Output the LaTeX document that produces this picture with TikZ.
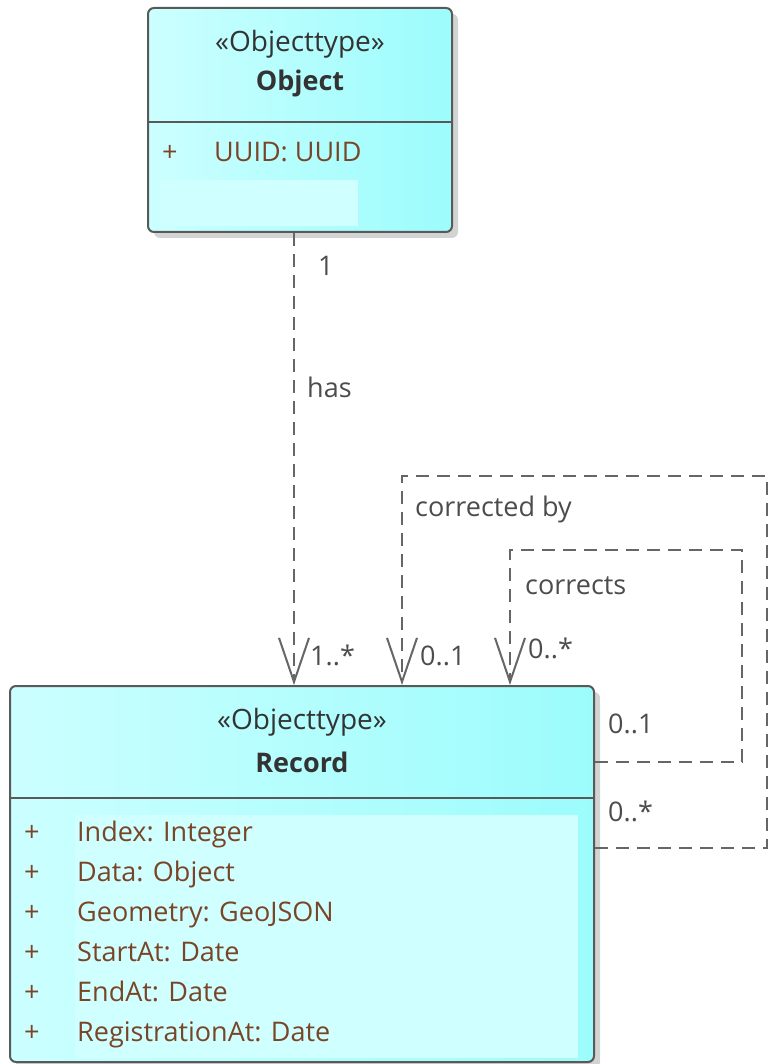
\documentclass[tikz,border=0pt]{standalone}
\usepackage{fontspec}
\setmainfont{Open Sans}
\usetikzlibrary{arrows.meta,positioning,shadows}
\definecolor{clsL}{HTML}{CCFFFF}
\definecolor{clsR}{HTML}{9CFCFC}
\definecolor{attrc}{HTML}{7A4526}
\definecolor{linec}{HTML}{666666}

\begin{document}
\begin{tikzpicture}[x=1pt,y=-1pt,font=\fontsize{27}{32}\selectfont,
  cls/.style={draw=black!65,line width=2pt,rounded corners=6pt,left color=clsL,right color=clsR,
    drop shadow={shadow xshift=6pt,shadow yshift=-6pt,opacity=.35}},
  st/.style={text=black!80,font=\fontsize{28}{32}\selectfont},
  nm/.style={text=black!80,font=\fontsize{27}{32}\selectfont\bfseries},
  attr/.style={text=attrc,anchor=base west,inner sep=0pt},
  lbl/.style={text=black!70,anchor=base west,inner sep=0pt},
  dep/.style={draw=linec,line width=2pt,dash pattern=on 13pt off 8pt,
    -{Straight Barb[length=44pt,width=30pt,line width=2pt]}}]
\useasboundingbox (0,0) rectangle (769,1064);
% classes
\node[cls,minimum width=304pt,minimum height=224pt] (obj) at (300,120) {};
\node[cls,minimum width=584pt,minimum height=376pt] (rec) at (302,874) {};
\fill[clsL!92!white] (160,180) rectangle (358,226);
\fill[clsL!95!white] (75,815) rectangle (578,1058);
\draw[black!65,line width=2pt] (149,122) -- (451,122);
\draw[black!65,line width=2pt] (11,798) -- (593,798);
\node[st] (objst) at (300,44) {«Objecttype»};
\node[nm] (objnm) at (300,83) {Object};
\node[attr] (objp) at (162,162) {+};
\node[attr] (objuuid) at (214,162) {UUID: UUID};
\node[st] (recst) at (302,722) {«Objecttype»};
\node[nm] (recnm) at (302,762) {Record};
\node[attr] (p1) at (24,841) {+};
\node[attr] (a1) at (77,841) {Index: Integer};
\node[attr] (p2) at (24,881) {+};
\node[attr] (a2) at (77,881) {Data: Object};
\node[attr] (p3) at (24,921) {+};
\node[attr] (a3) at (77,921) {Geometry: GeoJSON};
\node[attr] (p4) at (24,961) {+};
\node[attr] (a4) at (77,961) {StartAt: Date};
\node[attr] (p5) at (24,1001) {+};
\node[attr] (a5) at (77,1001) {EndAt: Date};
\node[attr] (p6) at (24,1041) {+};
\node[attr] (a6) at (77,1041) {RegistrationAt: Date};
% associations
\coordinate (cb) at (767,476);
\coordinate (co) at (742,550);
\draw[dep] ([xshift=-6pt]obj.south) -- ([xshift=-8pt]rec.north);
\draw[dep] ([yshift=26pt]rec.east) -| (cb) -| ([xshift=100pt]rec.north);
\draw[dep] ([yshift=112pt]rec.east) -| (co) -| ([xshift=208pt]rec.north);
\node[lbl] (m1) at (318,276) {1};
\node[lbl] (has) at (307,397) {has};
\node[lbl] (m2) at (310,665) {1..*};
\node[lbl] (cbl) at (415,516) {corrected by};
\node[lbl] (m3) at (420,665) {0..1};
\node[lbl] (col) at (525,594) {corrects};
\node[lbl] (m4) at (528,658) {0..*};
\node[lbl] (m5) at (608,733) {0..1};
\node[lbl] (m6) at (608,821) {0..*};
\end{tikzpicture}
\end{document}
